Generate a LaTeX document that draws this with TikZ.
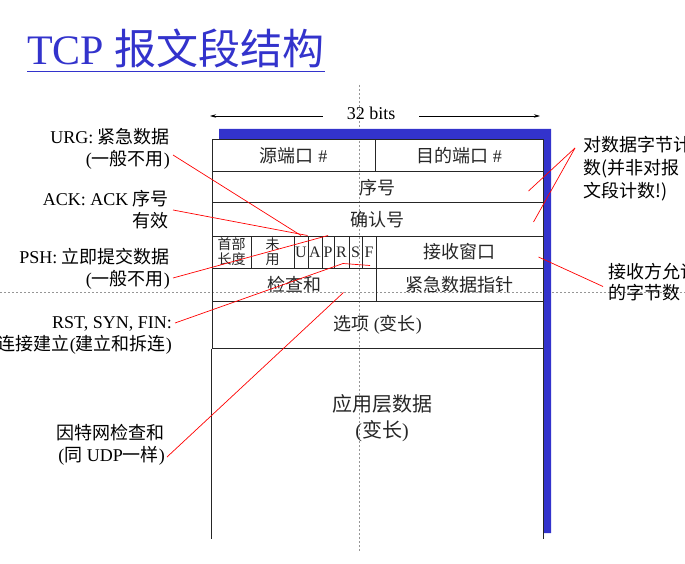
\documentclass[tikz,border=0pt]{standalone}
\usepackage{fontspec}
\setmainfont{Liberation Serif}
\newfontfamily\zhfont{Noto Sans CJK SC}
\newcommand{\zh}[1]{{\zhfont #1}}
\usetikzlibrary{arrows.meta,calc}
\definecolor{slideblue}{RGB}{51,51,204}
\definecolor{guidegray}{RGB}{150,150,150}
\tikzset{
  field/.style={draw=black!85,line width=1pt,inner sep=0pt,align=center,text=black!85,font=\fontsize{18}{20}\selectfont},
  smallfield/.style={field,font=\fontsize{14}{15}\selectfont},
  flagbit/.style={field,font=\fontsize{16}{16}\selectfont},
  tableline/.style={draw=black!85,line width=1pt},
  note/.style={inner sep=0pt,font=\fontsize{18}{22}\selectfont},
  lnote/.style={note,align=right,anchor=east},
  rnote/.style={note,align=left,font=\fontsize{18}{23}\selectfont},
  redline/.style={draw=red,line width=0.7pt},
  guide/.style={draw=guidegray,line width=0.6pt,dash pattern=on 2pt off 2pt},
  arr/.style={-{Stealth[length=6pt,width=3.5pt]},line width=0.7pt}
}

\begin{document}
\begin{tikzpicture}[x=1pt,y=-1pt]
  \useasboundingbox (0,0) rectangle (685,564);
  \draw[guide] (359,85) -- (359,552);
  \draw[guide] (0,292) -- (685,292);

  \node[font=\fontsize{42}{46}\selectfont,text=slideblue,inner sep=0pt,anchor=base west] (title) at (27,65) {TCP \zh{报文段结构}};
  \draw[slideblue,line width=1.3pt] ([yshift=-6.5pt]title.base west) -- ([yshift=-6.5pt]title.base east);

  \node[font=\fontsize{18}{20}\selectfont,inner xsep=24pt,inner ysep=0pt] (bits) at (371,113) {32 bits};
  \coordinate (wl) at (210,116);
  \coordinate (wr) at (540,116);
  \draw[arr] (bits.west |- wl) -- (wl);
  \draw[arr] (bits.east |- wr) -- (wr);

  \fill[slideblue] (219,129) -- (551,129) -- (551,533) -- (543,533) -- (543,139) -- (219,139) -- cycle;

  \node[field,minimum width=163pt,minimum height=32pt] (src) at (293.5,156) {\zh{源端口} \#};
  \node[field,minimum width=168pt,minimum height=32pt] (dst) at (459,156) {\zh{目的端口} \#};
  \node[field,minimum width=331pt,minimum height=31pt] (seq) at (377.5,187.5) {\zh{序号}};
  \node[field,minimum width=331pt,minimum height=33pt] (ack) at (377.5,219.5) {\zh{确认号}};
  \node[smallfield,minimum width=39pt,minimum height=32pt] (hlen) at (231.5,252) {\zh{首部}\\\zh{长度}};
  \node[smallfield,minimum width=43pt,minimum height=32pt] (unused) at (272.5,252) {\zh{未}\\\zh{用}};
  \node[flagbit,minimum width=14pt,minimum height=32pt] (fu) at (301,252) {U};
  \node[flagbit,minimum width=14pt,minimum height=32pt] (fa) at (315,252) {A};
  \node[flagbit,minimum width=12pt,minimum height=32pt] (fp) at (328,252) {P};
  \node[flagbit,minimum width=15pt,minimum height=32pt] (fr) at (341.5,252) {R};
  \node[flagbit,minimum width=13pt,minimum height=32pt] (fs) at (355.5,252) {S};
  \node[flagbit,minimum width=14pt,minimum height=32pt] (ff) at (369,252) {F};
  \node[field,minimum width=167pt,minimum height=32pt] (rwnd) at (459.5,252) {\zh{接收窗口}};
  \node[field,minimum width=164pt,minimum height=33pt] (csum) at (294,284.5) {\zh{检查和}};
  \node[field,minimum width=167pt,minimum height=33pt] (urgptr) at (459.5,284.5) {\zh{紧急数据指针}};
  \node[field,minimum width=331pt,minimum height=47pt] (opts) at (377.5,324.5) {\zh{选项} (\zh{变长})};
  \draw[tableline] (opts.south west) -- ++(0,190);
  \draw[tableline] (opts.south east) -- ++(0,190);
  \node[field,draw=none,font=\fontsize{20}{26}\selectfont] (appdata) at (382,418) {\zh{应用层数据}\\(\zh{变长})};

  \node[lnote] (urg) at (170,148.5) {URG: \zh{紧急数据}\\(\zh{一般不用})};
  \node[lnote] (ackn) at (169,210) {ACK: ACK \zh{序号}\\\zh{有效}};
  \node[lnote] (psh) at (170,269) {PSH: \zh{立即提交数据}\\(\zh{一般不用})};
  \node[lnote] (rst) at (172,335) {RST, SYN, FIN:\\\zh{连接建立}(\zh{建立和拆连})};
  \node[lnote] (cs) at (165,445) {\zh{因特网检查和}\\(\zh{同} UDP\zh{一样})};
  \node[rnote,anchor=north west] (seqnote) at (583,136) {\zh{对数据字节计}\\\zh{数(并非对报}\\\zh{文段计数!)}};
  \node[rnote,anchor=west,font=\fontsize{18}{21}\selectfont] (rwnote) at (608,282.5) {\zh{接收方允许}\\\zh{的字节数}};

  \draw[redline] ([shift={(3,6.5)}]urg.east) -- (fu.north);
  \draw[redline] ([shift={(4,0)}]ackn.east) -- (fa.north west);
  \draw[redline] ([shift={(3,9)}]psh.east) -- (fp.north);
  \draw[redline] ([shift={(3,-12)}]rst.east) -- ([shift={(1.5,-5)}]fr.south) -- ([shift={(1,-3)}]ff.south);
  \draw[redline] ([shift={(2,12)}]cs.east) -- ([shift={(-33,-9)}]csum.south east);
  \draw[redline] ([shift={(-8,12)}]seqnote.north west) -- ([shift={(-15,3.5)}]seq.east);
  \draw[redline] ([shift={(-8,12)}]seqnote.north west) -- ([shift={(-10,2.5)}]ack.east);
  \draw[redline] ([shift={(-5,4)}]rwnote.west) -- ([shift={(-5,5)}]rwnd.east);
\end{tikzpicture}
\end{document}
